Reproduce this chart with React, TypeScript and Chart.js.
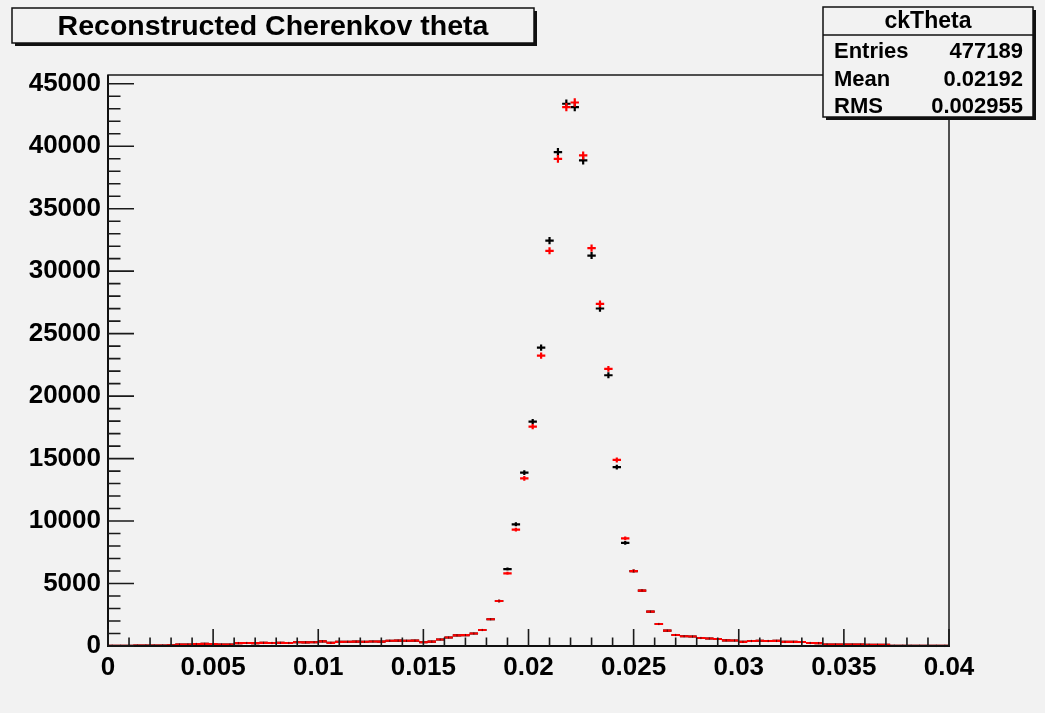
import React, { useEffect, useRef } from "react";
import { Chart, registerables } from "chart.js";

Chart.register(...registerables);

// Histogram binning (100 bins from 0 to 0.04)
const binCount = 100;
const binWidth = 0.0004;
const xMin = 0;
const xMax = 0.04;
const yMax = 45700;
const binCenters = Array.from({ length: binCount }, (_, i) => +(xMin + binWidth * (i + 0.5)).toFixed(5));

// Axis tick labels
const xTickValues = [0, 0.005, 0.01, 0.015, 0.02, 0.025, 0.03, 0.035, 0.04];
const xTickLabels = ["0", "0.005", "0.01", "0.015", "0.02", "0.025", "0.03", "0.035", "0.04"];
const yTickValues = [0, 5000, 10000, 15000, 20000, 25000, 30000, 35000, 40000, 45000];
const yTickLabels = ["0", "5000", "10000", "15000", "20000", "25000", "30000", "35000", "40000", "45000"];

// Black histogram counts
const blackCounts = [
  20, 15, 20, 25, 30, 30, 40, 50, 110, 120,
  160, 170, 150, 120, 110, 230, 240, 230, 250, 240,
  250, 240, 300, 290, 300, 370, 250, 330, 340, 350,
  340, 360, 350, 420, 430, 420, 430, 300, 350, 520,
  680, 850, 870, 1000, 1280, 2140, 3600, 6160, 9740, 13880,
  17960, 23880, 32450, 39530, 43400, 43130, 38860, 31250, 27010, 21670,
  14310, 8250, 6000, 4430, 2750, 1760, 1230, 880, 780, 760,
  640, 600, 560, 450, 440, 330, 400, 420, 400, 410,
  330, 330, 320, 240, 230, 120, 120, 110, 120, 110,
  100, 100, 90, 20, 20, 15, 15, 10, 10, 10,
];

// Red histogram counts
const redCounts = [
  20, 15, 20, 25, 30, 30, 40, 50, 110, 120,
  160, 170, 150, 120, 110, 230, 240, 230, 250, 240,
  250, 240, 300, 290, 300, 370, 250, 330, 340, 350,
  340, 360, 350, 420, 430, 420, 430, 300, 350, 520,
  680, 850, 870, 1000, 1280, 2140, 3600, 5820, 9310, 13420,
  17560, 23240, 31630, 38990, 43130, 43500, 39260, 31840, 27380, 22180,
  14890, 8620, 6000, 4430, 2750, 1760, 1230, 880, 780, 760,
  640, 600, 560, 450, 440, 330, 400, 420, 400, 410,
  330, 330, 320, 240, 230, 120, 120, 110, 120, 110,
  100, 100, 90, 20, 20, 15, 15, 10, 10, 10,
];

const titleText = "Reconstructed Cherenkov theta";
const statsTitle = "ckTheta";
const statsLabels = ["Entries", "Mean", "RMS"];
const statsValues = ["477189", "0.02192", "0.002955"];

const BG = "#f2f2f2";
const FONT = "'Liberation Sans', Arial, Helvetica, sans-serif";
const ERR_SCALE = 1.6;

const rootPlugin = {
  id: "rootStyle",
  beforeDraw(chart: any) {
    const ctx = chart.ctx;
    ctx.save();
    ctx.fillStyle = BG;
    ctx.fillRect(0, 0, chart.width, chart.height);
    ctx.restore();
  },
  afterDatasetsDraw(chart: any) {
    const ctx = chart.ctx;
    const xs = chart.scales.x;
    const ys = chart.scales.y;
    const drawHist = (vals: number[], color: string) => {
      ctx.save();
      ctx.strokeStyle = color;
      ctx.lineWidth = 2.2;
      ctx.beginPath();
      vals.forEach((v, i) => {
        const c = binCenters[i];
        const xl = xs.getPixelForValue(c - binWidth / 2);
        const xr = xs.getPixelForValue(c + binWidth / 2);
        const xc = xs.getPixelForValue(c);
        const y = ys.getPixelForValue(v);
        const e = Math.sqrt(v) * ERR_SCALE;
        ctx.moveTo(xl, y);
        ctx.lineTo(xr, y);
        ctx.moveTo(xc, ys.getPixelForValue(v + e));
        ctx.lineTo(xc, ys.getPixelForValue(Math.max(0, v - e)));
      });
      ctx.stroke();
      ctx.restore();
    };
    drawHist(blackCounts, "#000000");
    drawHist(redCounts, "#ff0000");
    // black error-bar centres faintly visible over the red line
    ctx.save();
    ctx.fillStyle = "rgba(0,0,0,0.55)";
    blackCounts.forEach((v, i) => {
      if (Math.abs(v - redCounts[i]) > 1) return;
      const xc = xs.getPixelForValue(binCenters[i]);
      const y = ys.getPixelForValue(v);
      ctx.fillRect(xc - 0.5, y - 1.2, 1, 2.4);
    });
    ctx.restore();
  },
  afterDraw(chart: any) {
    const ctx = chart.ctx;
    const xs = chart.scales.x;
    const ys = chart.scales.y;
    const { left, right, top, bottom } = chart.chartArea;
    ctx.save();
    // frame
    ctx.strokeStyle = "#1a1a1a";
    ctx.lineWidth = 1.5;
    ctx.strokeRect(left, top, right - left, bottom - top);
    ctx.lineWidth = 2;
    ctx.strokeStyle = "#111";
    ctx.beginPath();
    ctx.moveTo(left, top);
    ctx.lineTo(left, bottom);
    ctx.lineTo(right + 1, bottom);
    ctx.stroke();
    // ticks
    ctx.lineWidth = 1.6;
    ctx.strokeStyle = "#1a1a1a";
    ctx.beginPath();
    for (let k = 0; k <= 40; k++) {
      const px = xs.getPixelForValue(k * 0.001);
      const len = k % 5 === 0 ? 17 : 8.5;
      ctx.moveTo(px, bottom);
      ctx.lineTo(px, bottom - len);
    }
    for (let k = 0; k <= 45; k++) {
      const py = ys.getPixelForValue(k * 1000);
      const len = k % 5 === 0 ? 26 : 12.5;
      ctx.moveTo(left, py);
      ctx.lineTo(left + len, py);
    }
    ctx.stroke();

    // boxes
    const box = (x: number, y: number, w: number, h: number) => {
      ctx.fillStyle = "#111";
      ctx.fillRect(x + 3, y + 3, w, h);
      ctx.fillStyle = BG;
      ctx.fillRect(x, y, w, h);
      ctx.strokeStyle = "#111";
      ctx.lineWidth = 1.5;
      ctx.strokeRect(x, y, w, h);
    };
    // title
    box(12, 8, 522, 35);
    ctx.fillStyle = "#000";
    ctx.font = `bold 28.5px ${FONT}`;
    ctx.textAlign = "center";
    ctx.textBaseline = "middle";
    ctx.fillText(titleText, 273, 27);

    // stats
    box(823, 7, 210, 110);
    ctx.strokeStyle = "#111";
    ctx.lineWidth = 1.5;
    ctx.beginPath();
    ctx.moveTo(823, 35);
    ctx.lineTo(1033, 35);
    ctx.stroke();
    ctx.fillStyle = "#000";
    ctx.font = `bold 23px ${FONT}`;
    ctx.textAlign = "center";
    ctx.textBaseline = "middle";
    ctx.fillText(statsTitle, 928, 22);
    ctx.font = `bold 22px ${FONT}`;
    const rowY = [52, 80, 107];
    statsLabels.forEach((l, i) => {
      ctx.textAlign = "left";
      ctx.fillText(l, 834, rowY[i]);
      ctx.textAlign = "right";
      ctx.fillText(statsValues[i], 1023, rowY[i]);
    });
    ctx.restore();
  },
};

export default function App() {
  const ref = useRef<HTMLCanvasElement | null>(null);
  useEffect(() => {
    document.body.style.margin = "0";
    document.body.style.background = BG;
    const canvas = ref.current;
    if (!canvas) return;
    const chart = new Chart(canvas, {
      type: "scatter",
      data: {
        datasets: [
          {
            label: "black",
            data: binCenters.map((x, i) => ({ x, y: blackCounts[i] })),
            pointRadius: 0,
            showLine: false,
            borderColor: "#000",
          },
          {
            label: "red",
            data: binCenters.map((x, i) => ({ x, y: redCounts[i] })),
            pointRadius: 0,
            showLine: false,
            borderColor: "#f00",
          },
        ],
      },
      options: {
        animation: false,
        responsive: false,
        devicePixelRatio: 1,
        layout: { padding: { left: 0, top: 75, right: 96, bottom: 0 } },
        plugins: { legend: { display: false }, tooltip: { enabled: false }, title: { display: false } },
        scales: {
          x: {
            type: "linear",
            min: xMin,
            max: xMax,
            grid: { display: false, drawTicks: false },
            border: { display: false },
            afterBuildTicks: (s: any) => {
              s.ticks = xTickValues.map((v) => ({ value: v }));
            },
            ticks: {
              autoSkip: false,
              maxRotation: 0,
              padding: 6,
              color: "#000",
              font: { family: FONT, size: 26, weight: "bold" },
              callback: (v: any, i: number) => xTickLabels[i],
            },
            afterFit: (s: any) => {
              s.height = 67;
            },
          },
          y: {
            type: "linear",
            min: 0,
            max: yMax,
            grid: { display: false, drawTicks: false },
            border: { display: false },
            afterBuildTicks: (s: any) => {
              s.ticks = yTickValues.map((v) => ({ value: v }));
            },
            ticks: {
              autoSkip: false,
              padding: 7,
              color: "#000",
              font: { family: FONT, size: 26, weight: "bold" },
              callback: (v: any, i: number) => yTickLabels[i],
            },
            afterFit: (s: any) => {
              s.width = 108;
            },
          },
        },
      },
      plugins: [rootPlugin],
    } as any);
    return () => chart.destroy();
  }, []);
  return <canvas ref={ref} width={1045} height={713} style={{ display: "block" }} />;
}
